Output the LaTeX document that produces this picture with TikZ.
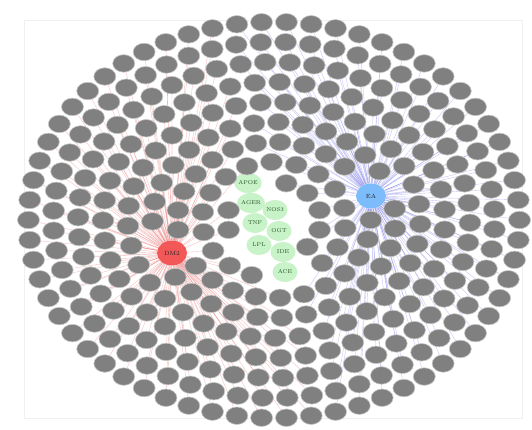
\documentclass[tikz,border=0pt]{standalone}
\usetikzlibrary{shapes.geometric}
\definecolor{nodegray}{RGB}{128,128,128}
\definecolor{dmred}{RGB}{242,88,88}
\definecolor{eablue}{RGB}{125,188,250}
\definecolor{greenfill}{RGB}{200,242,200}
\definecolor{greentext}{RGB}{35,85,35}
\definecolor{redline}{RGB}{238,120,120}
\definecolor{blueline}{RGB}{130,130,235}
\pgfdeclarelayer{bg}
\pgfsetlayers{bg,main}
\newcommand\ringcalc{%
  \pgfmathsetmacro\th{\i/\N*360+\off}%
  \pgfmathsetmacro\u{\R*cos(\th)/10}%
  \pgfmathsetmacro\v{\R*sin(\th)/10}%
  \pgfmathsetmacro\dh{min(veclen(\u+8.23,\v-3.3),veclen(\u-7.82,\v+2.4))}%
  \pgfmathsetmacro\dg{min(veclen(\u+2.1,\v+3.7),veclen(\u+1.85,\v+1.7),veclen(\u-0.08,\v+1.0),veclen(\u+1.53,\v-0.3),veclen(\u-0.4,\v-1.1),veclen(\u+1.21,\v-2.5),veclen(\u-0.73,\v-3.2),veclen(\u-0.89,\v-5.2))}%
  \pgfmathtruncatemacro\ok{(\dh>1.95)&&(\dg>1.6)}%
  \pgfmathsetmacro\xi{274+12.4*\u}%
  \pgfmathsetmacro\yi{220+10*\v}%
  \pgfmathtruncatemacro\side{veclen((\xi-172)/10,(\yi-253)/10)>veclen((\xi-371)/10,(\yi-196)/10)}%
}
\newcommand\ringlist{198/62/0,178/56/3,158/50/1,138/43/4,118/37/2,98/31/5,78/25/0,58/18/8,38/12/15}
\begin{document}
\begin{tikzpicture}[x=1pt,y=-1pt,
  graynode/.style={ellipse,fill=nodegray,draw=gray!45,line width=0.6pt,minimum width=22pt,minimum height=17.5pt,inner sep=0pt},
  hubnode/.style={ellipse,draw=none,minimum width=30pt,minimum height=25pt,inner sep=0pt,font=\fontsize{6}{7}\selectfont,text=black!85},
  genenode/.style={ellipse,fill=greenfill,draw=none,minimum width=25pt,minimum height=20pt,inner sep=0pt,font=\fontsize{5.6}{6.5}\selectfont,text=greentext},
  redge/.style={redline,line width=0.35pt,opacity=0.5},
  bedge/.style={blueline,line width=0.35pt,opacity=0.5}]
\useasboundingbox (0,0) rectangle (532,430);
\begin{pgfonlayer}{bg}
\fill[white] (0,0) rectangle (532,430);
\draw[black!6,line width=0.6pt] (24,20) rectangle (522,418);
\end{pgfonlayer}
% hubs
\node[hubnode,fill=dmred] (dm2) at (172,253) {DM2};
\node[hubnode,fill=eablue] (ea) at (371,196) {EA};
% shared genes
\node[genenode] (apoe) at (248,183) {APOE};
\node[genenode] (ager) at (251,203) {AGER};
\node[genenode] (nos3) at (275,210) {NOS3};
\node[genenode] (tnf) at (255,223) {TNF};
\node[genenode] (ogt) at (279,231) {OGT};
\node[genenode] (lpl) at (259,245) {LPL};
\node[genenode] (ide) at (283,252) {IDE};
\node[genenode] (ace) at (285,272) {ACE};
% concentric rings of gray nodes
\foreach \R/\N/\off [count=\k] in \ringlist{
  \foreach \i in {1,...,\N}{
    \ringcalc
    \ifnum\ok=1
      \node[graynode] (g-\k-\i) at (\xi,\yi) {};
    \fi
  }
}
% edges from the hubs
\begin{pgfonlayer}{bg}
\foreach \R/\N/\off [count=\k] in \ringlist{
  \foreach \i in {1,...,\N}{
    \ringcalc
    \ifnum\ok=1
      \ifnum\side=0
        \draw[redge] (dm2) -- (g-\k-\i);
      \else
        \draw[bedge] (ea) -- (g-\k-\i);
      \fi
    \fi
  }
}
\end{pgfonlayer}
\end{tikzpicture}
\end{document}
